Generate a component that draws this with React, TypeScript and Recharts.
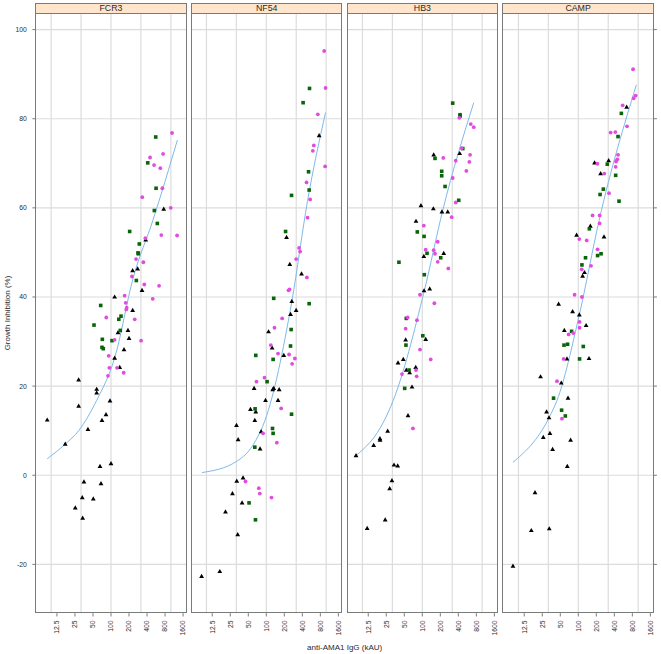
import React from 'react';
import { ComposedChart, Scatter, Line, XAxis, YAxis, CartesianGrid } from 'recharts';

type Pt = [number, number];

const panelNames = ['FCR3', 'NF54', 'HB3', 'CAMP'];
const xTicks = [12.5, 25, 50, 100, 200, 400, 800, 1600];
const yTicks = [-20, 0, 20, 40, 60, 80, 100];
const xGrid = [10, 31.62, 100, 316.2, 1000];

// FCR3
const fcr3Tri: Pt[] = [[760,59.7],[380,52.8],[279,46.3],[230,45.9],[330,41.5],[115,40.0],[230,37.0],[192,32.5],[131,32.0],[200,30.7],[165,28.2],[115,26.3],[140,24.2],[28.8,21.4],[57.6,19.3],[57.6,18.5],[96.2,16.7],[28.8,15.5],[82.5,13.6],[70.7,12.3],[8.6,12.4],[41.2,10.3],[17.2,7.0],[100,2.6],[65.5,2.0],[35.3,-1.5],[68.1,-1.9],[33.1,-5.0],[50.6,-5.3],[25.3,-7.3],[33.6,-9.6]];
const fcr3Sq: Pt[] = [[559,75.9],[411,70.1],[566,64.4],[530,59.4],[594,56.5],[205,54.7],[297,51.9],[283,49.9],[286,49.7],[265,43.7],[67.3,38.1],[147,35.7],[135,35.0],[52,33.7],[143,32.5],[71.6,30.5],[104,30.2],[70.7,28.7],[74.3,28.4]];
const fcr3Dot: Pt[] = [[1047,76.8],[449,71.3],[741,72.1],[524,69.6],[667,68.9],[721,64.4],[333,62.4],[995,60.0],[693,53.9],[1270,53.8],[375,53.2],[262,48.5],[347,47.8],[224,44.6],[360,42.8],[635,42.5],[498,39.6],[169,40.3],[176,38.7],[183,37.6],[180,37.2],[249,35.0],[83.4,35.4],[115,30.4],[318,30.2],[91.5,26.8],[93.7,24.1],[126,24.1],[163,23.0],[89.1,22.3]];
const fcr3Fit: Pt[] = [[8.6,3.7],[17.2,7.0],[28.8,10.0],[57.6,16.8],[115,26.3],[236,44.4],[498,57.1],[1285,75.2]];

// NF54
const nf54Tri: Pt[] = [[764,76.2],[218,53.4],[247,47.3],[388,45.2],[267,39.0],[315,37.0],[254,36.1],[109,32.2],[125,28.6],[196,26.9],[62.5,19.5],[133,19.5],[128,19.2],[164,19.2],[97,16.8],[157,16.8],[54.4,14.8],[66.7,14.2],[64.3,12.3],[81.9,9.8],[31.8,11.2],[33.8,8.0],[78.7,5.9],[32.1,-1.3],[40.9,-0.6],[27.2,-4.1],[39.4,-6.2],[20.8,-8.2],[33.3,-13.3],[16.7,-21.6],[8.3,-22.7]];
const nf54Sq: Pt[] = [[527,86.8],[412,83.6],[508,68.1],[520,64.0],[264,62.8],[210,54.7],[133,39.7],[520,38.5],[260,32.7],[254,29.0],[66.7,26.9],[130,26.0],[103,21.0],[65,14.9],[264,13.7],[127,10.5],[130,9.4],[64.3,6.3],[51.5,-6.2],[65.9,-10.0]];
const nf54Dot: Pt[] = [[927,95.2],[977,86.9],[726,81.0],[622,74.0],[599,72.8],[961,69.3],[470,65.7],[540,61.9],[489,57.8],[353,51.0],[367,50.2],[315,48.5],[476,44.4],[244,41.7],[235,41.5],[184,35.2],[137,33.1],[119,29.2],[157,27.3],[240,27.1],[300,26.2],[270,25.0],[93.3,21.9],[68.6,21.0],[177,15.0],[88.4,9.4],[150,7.3],[44.9,-1.4],[75,-2.9],[77.9,-4.1],[122,-5.0]];
const nf54Fit: Pt[] = [[8.4,0.6],[31.8,3.1],[66.7,7.8],[95,12.3],[267,39.0],[489,61.6],[977,81.4]];

// HB3
const hb3Tri: Pt[] = [[422,72.2],[155,71.9],[95,60.5],[153,59.8],[213,59.1],[266,59.1],[78.5,57.0],[228,49.8],[106,49.1],[133,41.8],[107,41.4],[114,30.5],[52.7,30.4],[48.1,26.0],[39.3,25.2],[77.6,24.2],[54,23.6],[61.5,23.0],[67.3,19.8],[57.7,13.4],[26.4,9.9],[19.6,8.2],[19.7,7.9],[15.4,6.7],[7.8,4.4],[33.7,2.3],[38.8,2.1],[31.1,-1.2],[28.5,-3.0],[24.0,-10.0],[12.0,-11.9]];
const hb3Sq: Pt[] = [[322,83.5],[427,80.9],[427,80.6],[474,73.3],[163,71.1],[211,68.2],[211,67.2],[240,64.8],[406,61.7],[82.5,54.6],[107,53.6],[120,49.8],[203,48.8],[40.7,47.8],[108,45.0],[54,35.2],[102,31.3],[53.3,29.2],[60,23.6],[50.8,19.5]];
const hb3Dot: Pt[] = [[415,80.2],[645,78.8],[724,78.1],[456,73.4],[628,71.9],[224,71.2],[362,70.6],[611,70.3],[544,68.3],[322,66.7],[362,61.2],[310,57.9],[106,56.0],[181,52.4],[114,50.6],[155,50.5],[163,49.7],[181,47.9],[272,46.4],[91.6,40.5],[159,38.6],[57,35.4],[81.5,34.8],[52.7,32.9],[91.6,28.2],[138,26.0],[78.5,23.6],[45.8,22.7],[80.5,22.2],[69.8,10.5]];
const hb3Fit: Pt[] = [[7.8,4.4],[23.2,12.3],[32.7,16.8],[108,41.4],[220,59.5],[724,83.6]];

// CAMP
const campTri: Pt[] = [[643,82.6],[321,70.6],[187,70.1],[236,67.7],[159,55.9],[93.7,53.9],[269,53.5],[127,45.5],[118,44.7],[46.9,38.4],[80.3,36.7],[104,36.0],[135,33.6],[58.4,32.5],[64.7,26.1],[151,26.2],[23.4,22.1],[52,20.7],[67.3,17.3],[29.5,14.2],[32.4,12.9],[33.6,9.4],[26,8.5],[74.3,7.9],[37.2,5.8],[65.5,2.0],[18.9,-3.9],[16.4,-12.4],[32.7,-12.0],[8.1,-20.4]];
const campSq: Pt[] = [[524,81.2],[461,76.0],[305,69.8],[421,67.3],[262,64.2],[231,63.0],[479,61.5],[153,55.3],[210,49.3],[240,49.7],[132,48.8],[115,47.2],[77.3,32.3],[57.7,29.2],[66.2,29.4],[121,28.9],[105,26.1],[38.6,17.3],[52.6,14.6],[60.7,13.3]];
const campDot: Pt[] = [[822,91.1],[908,85.2],[841,84.6],[551,83.0],[652,78.3],[347,76.9],[416,77.0],[461,71.9],[449,70.9],[427,70.4],[208,69.9],[421,69.2],[272,67.7],[326,63.3],[173,58.3],[227,58.3],[227,56.5],[104,53.0],[138,52.7],[210,50.7],[163,47.0],[114,46.2],[86.7,40.5],[115,40.0],[105,34.4],[105,33.1],[82.5,31.9],[68.9,31.6],[56.8,26.1],[44.1,21.1],[53.3,12.7]];
const campFit: Pt[] = [[8.1,2.9],[32.4,12.9],[44.1,16.8],[104,36.0],[222,57.1],[933,87.6]];

const panelData = [
  { tri: fcr3Tri, sq: fcr3Sq, dot: fcr3Dot, fit: fcr3Fit },
  { tri: nf54Tri, sq: nf54Sq, dot: nf54Dot, fit: nf54Fit },
  { tri: hb3Tri, sq: hb3Sq, dot: hb3Dot, fit: hb3Fit },
  { tri: campTri, sq: campSq, dot: campDot, fit: campFit },
];

const toRows = (pts: Pt[]) => pts.map(([x, y]) => ({ x, y }));

const FONT = '"Liberation Sans", Arial, Helvetica, sans-serif';
const BORDER = '#7a7a7a';
const GRID = '#dcdcdc';
const FIT = '#7cb9ea';
const GREEN = '#0a640a';
const PINK = '#e04ce0';
const TEXT = '#2a2a2a';

const PANEL_TOP = 13.5;
const PANEL_H = 599.2;
const PANEL_W = 150.6;
const LEFT0 = 35.7;
const STEP = 155.7;
const XAXIS_H = 40;
const X_DOMAIN = [5.52, 1811];
const Y_DOMAIN = [-30.95, 103.5];

const Tri = (p: any) => (
  <path d={`M${p.cx},${p.cy - 2.6}L${p.cx + 2.4},${p.cy + 1.6}L${p.cx - 2.4},${p.cy + 1.6}Z`} fill="#000" />
);
const Sq = (p: any) => <rect x={p.cx - 1.8} y={p.cy - 1.8} width={3.6} height={3.6} fill={GREEN} />;
const Dot = (p: any) => <circle cx={p.cx} cy={p.cy} r={1.9} fill={PINK} />;

const XTick = (props: any) => {
  const { x, y, payload } = props;
  return (
    <text
      x={x}
      y={y}
      dx={-2}
      dy={2.4}
      transform={`rotate(-90, ${x}, ${y})`}
      textAnchor="end"
      fontSize={6.8}
      fill={TEXT}
      fontFamily={FONT}
    >
      {payload.value}
    </text>
  );
};

const YTick = (props: any) => {
  const { x, y, payload } = props;
  return (
    <text x={x} y={y} dy={2.4} textAnchor="end" fontSize={6.8} fill={TEXT} fontFamily={FONT}>
      {payload.value}
    </text>
  );
};

const NoTick = () => <g />;

function Panel({ idx }: { idx: number }) {
  const d = panelData[idx];
  const left = LEFT0 + idx * STEP;
  const hasLeftAxis = idx === 0;
  const hasRightAxis = idx === 3;
  const yw = hasLeftAxis ? LEFT0 : hasRightAxis ? 8 : 0;
  const chartLeft = hasLeftAxis ? 0 : left;
  const width = PANEL_W + yw;

  return (
    <>
      <div style={{ position: 'absolute', left: chartLeft, top: PANEL_TOP }}>
        <ComposedChart
          width={width}
          height={PANEL_H + XAXIS_H}
          margin={{ top: 0, right: 0, bottom: 0, left: 0 }}
        >
          <CartesianGrid
            stroke={GRID}
            strokeWidth={1.2}
            horizontalValues={yTicks}
            verticalValues={xGrid}
          />
          <XAxis
            type="number"
            dataKey="x"
            scale="log"
            domain={X_DOMAIN}
            allowDataOverflow
            ticks={xTicks}
            interval={0}
            axisLine={false}
            tickLine={{ stroke: BORDER }}
            tickSize={3.3}
            tickMargin={2}
            height={XAXIS_H}
            tick={<XTick />}
          />
          <YAxis
            type="number"
            dataKey="y"
            domain={Y_DOMAIN}
            allowDataOverflow
            ticks={yTicks}
            interval={0}
            hide={!hasLeftAxis && !hasRightAxis}
            orientation={hasRightAxis ? 'right' : 'left'}
            width={yw || 1}
            axisLine={false}
            tickLine={{ stroke: BORDER }}
            tickSize={3.3}
            tickMargin={hasLeftAxis ? 5.5 : 0}
            tick={hasLeftAxis ? <YTick /> : <NoTick />}
          />
          <Scatter data={toRows(d.tri)} shape={<Tri />} isAnimationActive={false} />
          <Scatter data={toRows(d.sq)} shape={<Sq />} isAnimationActive={false} />
          <Scatter data={toRows(d.dot)} shape={<Dot />} isAnimationActive={false} />
          <Line
            data={toRows(d.fit)}
            dataKey="y"
            type="monotone"
            stroke={FIT}
            strokeWidth={1}
            dot={false}
            activeDot={false}
            isAnimationActive={false}
          />
        </ComposedChart>
      </div>
      <div
        style={{
          position: 'absolute',
          left: left - 0.5,
          top: PANEL_TOP - 0.5,
          width: PANEL_W + 1,
          height: PANEL_H + 1,
          border: `1px solid ${BORDER}`,
          boxSizing: 'border-box',
          pointerEvents: 'none',
        }}
      />
      <div
        style={{
          position: 'absolute',
          left: left - 0.5,
          top: 3,
          width: PANEL_W + 1,
          height: PANEL_TOP - 2.5,
          background: '#ffe5cc',
          border: `1px solid ${BORDER}`,
          boxSizing: 'border-box',
          fontSize: 8.8,
          lineHeight: `${PANEL_TOP - 4.5}px`,
          textAlign: 'center',
          color: TEXT,
        }}
      >
        {panelNames[idx]}
      </div>
    </>
  );
}

export default function App() {
  return (
    <div
      style={{
        position: 'absolute',
        left: 0,
        top: 0,
        width: 661,
        height: 654,
        background: '#fff',
        fontFamily: FONT,
      }}
    >
      {panelNames.map((_, i) => (
        <Panel key={i} idx={i} />
      ))}
      <div
        style={{
          position: 'absolute',
          left: 7,
          top: 313,
          transform: 'translate(-50%, -50%) rotate(-90deg)',
          whiteSpace: 'nowrap',
          fontSize: 8,
          color: TEXT,
        }}
      >
        Growth Inhibition (%)
      </div>
      <div
        style={{
          position: 'absolute',
          left: 344.7,
          top: 646.7,
          transform: 'translate(-50%, -50%)',
          whiteSpace: 'nowrap',
          fontSize: 8,
          color: TEXT,
        }}
      >
        anti-AMA1 IgG (kAU)
      </div>
    </div>
  );
}
